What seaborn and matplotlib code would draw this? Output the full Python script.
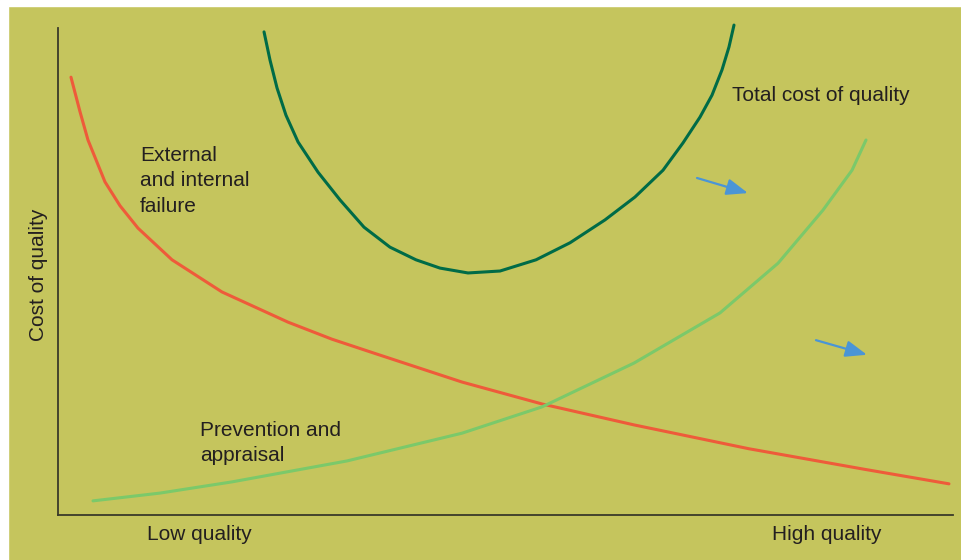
import matplotlib.pyplot as plt
import matplotlib.patches as mpatches
import pandas as pd
import seaborn as sns

# values: quality on x (0-100), cost on y (0-100)
failure_x = [1.45, 2.46, 3.35, 5.25, 6.93, 8.94, 12.74, 18.32, 25.70, 30.61, 35.53,
             45.14, 54.08, 64.36, 77.21, 90.06, 99.55]
failure_y = [89.9, 82.8, 77.0, 68.4, 63.5, 58.9, 52.4, 45.8, 39.6, 36.1, 33.1,
             27.3, 22.8, 18.5, 13.6, 9.4, 6.4]

prevention_x = [3.91, 11.40, 19.44, 32.29, 45.14, 54.08, 64.36, 73.97, 80.45, 85.47, 88.72, 90.28]
prevention_y = [2.9, 4.5, 6.8, 11.1, 16.8, 22.2, 31.2, 41.5, 51.7, 62.6, 70.8, 77.0]

total_x = [23.02, 23.69, 24.47, 25.47, 26.82, 29.05, 31.51, 34.19, 37.09, 40.00, 42.68, 45.81,
           49.39, 53.41, 57.21, 61.12, 64.47, 67.60, 69.83, 71.73, 73.07, 74.19, 74.97, 75.53]
total_y = [99.2, 93.4, 87.7, 82.1, 76.6, 70.4, 64.7, 59.1, 55.0, 52.4, 50.7, 49.7,
           50.1, 52.4, 55.9, 60.6, 65.3, 70.8, 76.4, 81.7, 86.2, 91.4, 96.1, 100.6]

arrow_starts = [(71.40, 69.2), (84.69, 35.9)]
arrow_ends = [(77.09, 66.1), (90.39, 32.9)]

bg = "#C5C55D"
sns.set_theme(style="white")
plt.rcParams["font.family"] = ["Liberation Sans", "DejaVu Sans"]

fig = plt.figure(figsize=(9.61, 5.6), dpi=100, facecolor=bg)
fig.patches.append(mpatches.Rectangle((0, 0), 8 / 961, 1, transform=fig.transFigure, color="white", zorder=0))
fig.patches.append(mpatches.Rectangle((0, 554 / 560), 1, 6 / 560, transform=fig.transFigure, color="white", zorder=0))

ax = fig.add_axes([58 / 961, 45 / 560, 895 / 961, 487 / 560])
ax.set_facecolor(bg)
ax.set_xlim(0, 100)
ax.set_ylim(0, 100)

curves = pd.concat([
    pd.DataFrame({"x": failure_x, "y": failure_y, "curve": "failure"}),
    pd.DataFrame({"x": prevention_x, "y": prevention_y, "curve": "prevention"}),
    pd.DataFrame({"x": total_x, "y": total_y, "curve": "total"}),
])
sns.lineplot(data=curves, x="x", y="y", hue="curve", sort=False, estimator=None,
             palette={"failure": "#EE5B3A", "prevention": "#7BC96A", "total": "#006B47"},
             linewidth=2.2, legend=False, ax=ax, clip_on=False)
for line in ax.lines:
    line.set_solid_joinstyle("round")

for s, e in zip(arrow_starts, arrow_ends):
    ax.annotate("", xy=e, xytext=s,
                arrowprops=dict(arrowstyle="-|>,head_length=1.3,head_width=0.5",
                                mutation_scale=10, shrinkA=0, shrinkB=0,
                                color="#4A95D6", lw=1.6))

for side in ["top", "right"]:
    ax.spines[side].set_visible(False)
for side in ["left", "bottom"]:
    ax.spines[side].set_color("#3a3a2a")
    ax.spines[side].set_linewidth(1.3)
ax.set_xticks([])
ax.set_yticks([])
ax.set_xlabel("")
ax.set_ylabel("")

tc = "#231F20"
fs = 15
ax.text(75.3, 86.2, "Total cost of quality", fontsize=fs, color=tc, va="center")
ax.text(9.16, 68.6, "External\nand internal\nfailure", fontsize=fs, color=tc, va="center", linespacing=1.45)
ax.text(15.87, 14.8, "Prevention and\nappraisal", fontsize=fs, color=tc, va="center", linespacing=1.45)
fig.text(147 / 961, 1 - 534 / 560, "Low quality", fontsize=fs, color=tc, va="center")
fig.text(772 / 961, 1 - 534 / 560, "High quality", fontsize=fs, color=tc, va="center")
fig.text(38 / 961, 1 - 275 / 560, "Cost of quality", fontsize=fs, color=tc, va="center",
         ha="center", rotation=90)

fig.savefig("out.png", dpi=100, facecolor=bg)
